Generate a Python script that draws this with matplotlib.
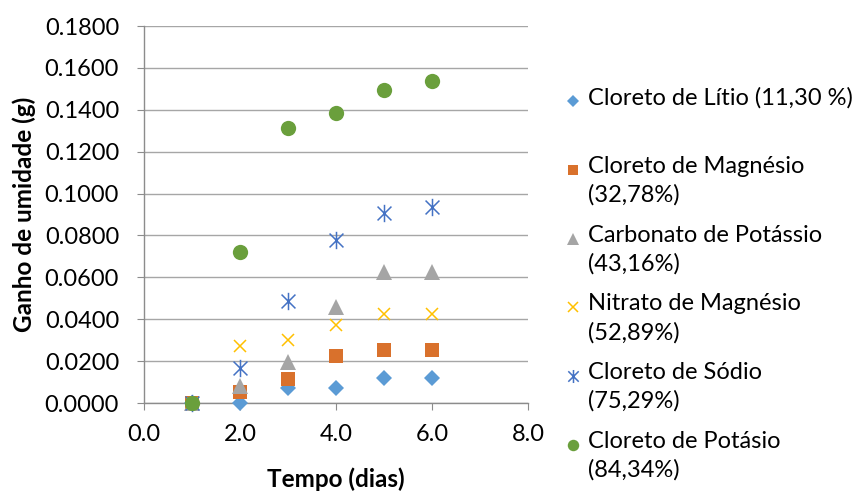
import matplotlib.pyplot as plt
from matplotlib.lines import Line2D
from matplotlib.path import Path

plt.rcParams['font.family'] = ['Lato', 'DejaVu Sans']

dias = [1, 2, 3, 4, 5, 6]

cloreto_litio = [0.0, 0.0, 0.0070, 0.0070, 0.0118, 0.0118]
cloreto_magnesio = [0.0, 0.0051, 0.0113, 0.0223, 0.0253, 0.0253]
carbonato_potassio = [0.0, 0.0080, 0.0197, 0.0460, 0.0624, 0.0624]
nitrato_magnesio = [0.0, 0.0274, 0.0300, 0.0371, 0.0424, 0.0424]
cloreto_sodio = [0.0, 0.0166, 0.0487, 0.0778, 0.0906, 0.0937]
cloreto_potasio = [0.0, 0.0722, 0.1315, 0.1383, 0.1494, 0.1536]

rotulos = ['Cloreto de Lítio (11,30 %)',
           'Cloreto de Magnésio\n(32,78%)',
           'Carbonato de Potássio\n(43,16%)',
           'Nitrato de Magnésio\n(52,89%)',
           'Cloreto de Sódio\n(75,29%)',
           'Cloreto de Potásio\n(84,34%)']

series = [cloreto_litio, cloreto_magnesio, carbonato_potassio,
          nitrato_magnesio, cloreto_sodio, cloreto_potasio]

# star marker: an X with a vertical stroke through it
estrela = Path([(-1, -1), (1, 1), (-1, 1), (1, -1), (0, -1.25), (0, 1.25)],
               [Path.MOVETO, Path.LINETO, Path.MOVETO, Path.LINETO, Path.MOVETO, Path.LINETO])

# marker, size, color, edge width
estilos = [('D', 8.5, '#5B9BD5', 0),
           ('s', 10, '#D9712C', 0),
           ('^', 11, '#A5A5A5', 0),
           ('x', 9, '#FFC000', 1.1),
           (estrela, 12.5, '#4472C4', 1.1),
           ('o', 11, '#6A9F3C', 0)]

fig = plt.figure(figsize=(8.63, 4.91), dpi=100)
ax = fig.add_axes([144 / 863, 1 - 403 / 491, 384 / 863, 377 / 491])

for y, (m, ms, c, mew) in zip(series, estilos):
    ax.plot(dias, y, linestyle='none', marker=m, markersize=ms, color=c,
            markeredgewidth=mew, clip_on=False, zorder=3)

ax.set_xlim(0, 8)
ax.set_ylim(0, 0.18)
ax.set_xticks([0, 2, 4, 6, 8])
ax.set_yticks([i * 0.02 for i in range(10)])
ax.xaxis.set_major_formatter(plt.FuncFormatter(lambda v, p: f'{v:.1f}'))
ax.yaxis.set_major_formatter(plt.FuncFormatter(lambda v, p: f'{v:.4f}'))
ax.yaxis.grid(True, color='#A6A6A6', linewidth=1.0)
ax.set_axisbelow(True)
for s in ['top', 'right']:
    ax.spines[s].set_visible(False)
for s in ['left', 'bottom']:
    ax.spines[s].set_color('#8C8C8C')
    ax.spines[s].set_linewidth(1.0)
ax.tick_params(axis='both', direction='out', length=5, color='#8C8C8C',
               labelsize=17)
ax.tick_params(axis='y', pad=13)
ax.tick_params(axis='x', pad=10)

ax.set_xlabel('Tempo (dias)', fontsize=17.5, fontweight='bold', labelpad=16)
ax.set_ylabel('Ganho de umidade (g)', fontsize=17.5, fontweight='bold', labelpad=6)

# legend, drawn by hand so each entry gets the same height
for i, (txt, (m, ms, c, mew)) in enumerate(zip(rotulos, estilos)):
    yp = 1 - (101 + 68.8 * i) / 491
    fig.add_artist(Line2D([573 / 863], [yp], marker=m, markersize=ms * 0.75, color=c,
                          linestyle='none', markeredgewidth=mew))
    fig.text(588 / 863, yp + 14 / 491, txt, fontsize=17, va='top', ha='left',
             linespacing=1.42)

fig.savefig('out.png', dpi=100)
